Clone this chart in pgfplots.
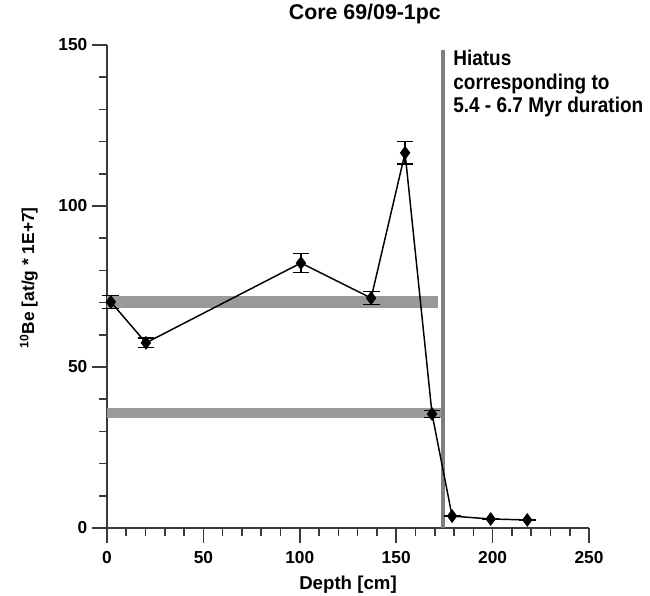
\documentclass[border=0pt]{standalone}
\usepackage{pgfplots}
\pgfplotsset{compat=1.18}
\usepackage{fontspec}
\setmainfont{Liberation Sans}
\newfontfamily\narrowsans[FakeStretch=0.89]{Liberation Sans}
\definecolor{bargray}{HTML}{999999}
\definecolor{hiatgray}{HTML}{7F7F7F}
\definecolor{axgray}{HTML}{3A3A3A}

\begin{document}
\begin{tikzpicture}
\begin{axis}[
  scale only axis,
  width=361.5pt, height=362.25pt,
  axis lines=left,
  axis line style={draw=axgray, line width=1.5pt, -},
  xmin=0, xmax=250, ymin=0, ymax=150,
  xtick={0,50,...,250}, ytick={0,50,100,150},
  minor x tick num=4, minor y tick num=4,
  tick align=outside,
  major tick length=11.25pt, minor tick length=6pt,
  tick style={draw=axgray, line width=1.2pt},
  tick label style={font=\fontsize{13}{15}\selectfont\bfseries},
  xticklabel style={yshift=-3pt},
  /pgf/number format/assume math mode=true,
  xlabel={Depth [cm]},
  ylabel={\textsuperscript{10}Be [at/g * 1E+7]},
  xlabel style={at={(axis description cs:0.5,-0.1263)}, anchor=base,
    font=\fontsize{14}{16}\selectfont\bfseries},
  ylabel style={at={(axis description cs:-0.162,0.518)}, anchor=center,
    font=\fontsize{13}{15}\selectfont\bfseries},
  title={Core 69/09-1pc},
  title style={at={(axis description cs:0.535,1.037)}, anchor=base,
    font=\fontsize{16}{18}\selectfont\bfseries},
  clip=false,
]
% reference levels
\addplot[bargray, line width=9.5pt] coordinates {(0,70.2) (171.7,70.2)};
\addplot[bargray, line width=7.5pt] coordinates {(0,35.7) (173.5,35.7)};
% hiatus
\addplot[hiatgray, line width=2.6pt] coordinates {(174.3,0) (174.3,148.5)};
% data
\addplot[black, line width=1.1pt, mark=diamond*, mark size=4.3pt,
  error bars/.cd, y dir=both, y explicit,
  error bar style={line width=1pt},
  error mark options={rotate=90, mark size=6.3pt, line width=1pt}]
  coordinates {
  (2,70.2) +- (0,2)
  (20.2,57.5) +- (0,1.5)
  (100.6,82.3) +- (0,3)
  (137,71.4) +- (0,2)
  (154.6,116.5) +- (0,3.5)
  (168.6,35.4) +- (0,1)
  (179,3.7) +- (0,0)
  (199,2.8) +- (0,0)
  (218,2.5) +- (0,0)
  };
\node[anchor=north west, align=left, inner sep=0pt,
  font=\narrowsans\fontsize{16}{17.5}\selectfont\bfseries]
  at (axis cs:179.5,148.4) {Hiatus\\corresponding to\\5.4 - 6.7 Myr duration};
\end{axis}
\pgfresetboundingbox
\path[use as bounding box] (-80.25pt,-51pt) rectangle (407.25pt,396pt);
\end{tikzpicture}
\end{document}
